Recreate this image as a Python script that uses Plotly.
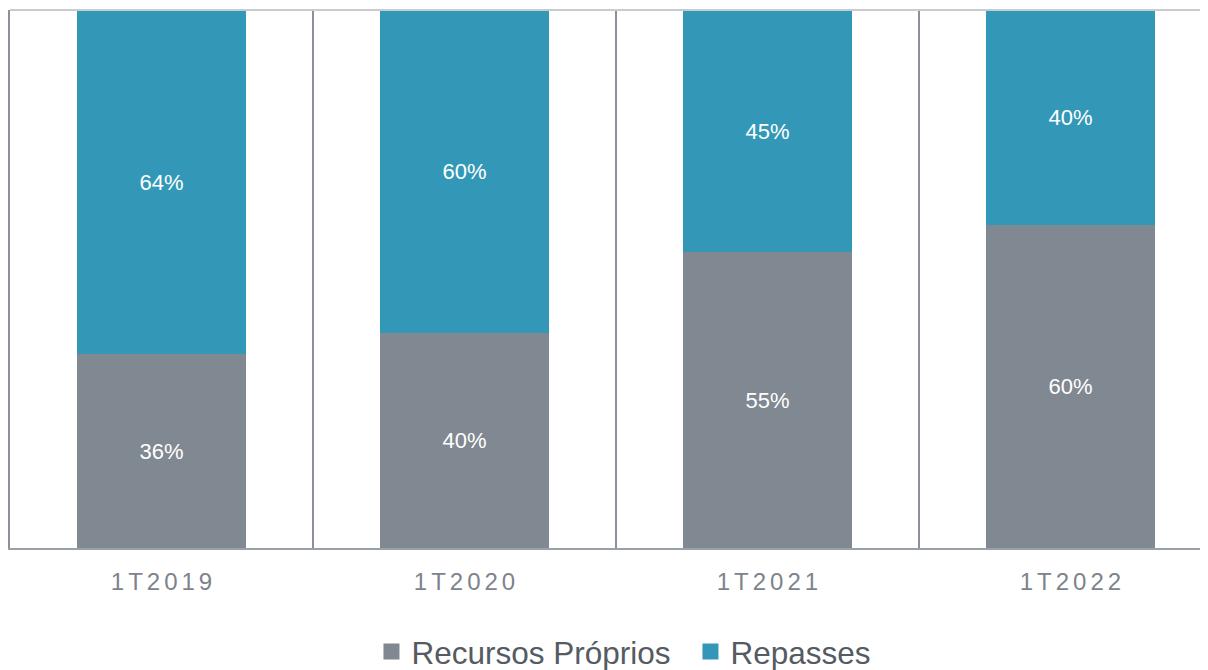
import plotly.graph_objects as go

categories = ["1T2019", "1T2020", "1T2021", "1T2022"]
recursos_proprios = [36, 40, 55, 60]
repasses = [64, 60, 45, 40]
series_names = ["Recursos Próprios", "Repasses"]

GRAY = "#808891"
BLUE = "#3398b7"
LINE = "#8a9199"

xpos = list(range(len(categories)))
spaced = ["\u2006".join(list(c)) for c in categories]

fig = go.Figure()
for name, vals, col in [(series_names[0], recursos_proprios, GRAY), (series_names[1], repasses, BLUE)]:
    fig.add_trace(go.Bar(
        x=xpos, y=vals, name=name, marker=dict(color=col, line=dict(width=0)),
        width=0.558, text=[f"{v}%" for v in vals], textposition="inside",
        insidetextanchor="middle", textangle=0,
        textfont=dict(color="white", size=22, family="Liberation Sans, Arial"),
        showlegend=False, hoverinfo="skip",
    ))
    fig.add_trace(go.Scatter(
        x=[None], y=[None], mode="markers", name=name,
        marker=dict(symbol="square", size=16, color=col), showlegend=True,
    ))

fig.update_layout(
    width=1200, height=662,
    margin=dict(l=2, r=0, t=2, b=122),
    barmode="stack",
    plot_bgcolor="white", paper_bgcolor="white",
    font=dict(family="Liberation Sans, Arial", color="#555b63"),
    showlegend=True,
    legend=dict(orientation="h", x=0.568, xanchor="center", y=0.028, yref="container",
                yanchor="middle", font=dict(size=31.5, color="#555b63"),
                entrywidth=274, entrywidthmode="pixels",
                itemclick=False, traceorder="normal"),
    xaxis=dict(
        range=[-0.5, 3.454], tickvals=xpos, ticktext=spaced,
        tickfont=dict(size=24, color="#7c838c"), showgrid=False, zeroline=False,
        showline=True, linecolor="#9aa0a7", linewidth=2, ticks="",
        ticklabelstandoff=11,
        minor=dict(tickvals=[0.5, 1.5, 2.5], showgrid=True, gridcolor=LINE, gridwidth=2),
        fixedrange=True,
    ),
    yaxis=dict(range=[0, 100], showticklabels=False, showgrid=False, zeroline=False,
               showline=True, linecolor=LINE, linewidth=2, fixedrange=True),
    shapes=[dict(type="line", xref="paper", yref="paper", x0=0, x1=1, y0=1, y1=1,
                 line=dict(color="#c9cccf", width=2))],
)

fig.write_html("out.html")
